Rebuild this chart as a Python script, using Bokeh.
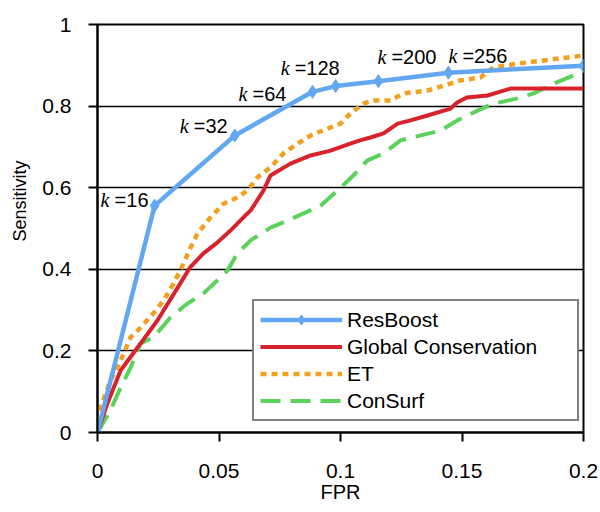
import math
from bokeh.plotting import figure
from bokeh.models import Legend, LegendItem, Label, FixedTicker, Title
from bokeh.embed import file_html
from bokeh.resources import INLINE

# ---------------- data ----------------
res_fpr = [0.0, 0.0235, 0.0565, 0.0885, 0.098, 0.1156, 0.1444, 0.2]
res_sens = [0.0, 0.556, 0.728, 0.835, 0.849, 0.861, 0.882, 0.899]
k_fpr = [0.0235, 0.0565, 0.0885, 0.098, 0.1156, 0.1444]
k_sens = [0.556, 0.728, 0.835, 0.849, 0.861, 0.882]
k_text = ["=16", "=32", "=64", "=128", "=200", "=256"]

gc_fpr = [0.0, 0.004, 0.0095, 0.0177, 0.0247, 0.033, 0.038, 0.0436, 0.0494, 0.0547,
          0.0617, 0.063, 0.0683, 0.0712, 0.0794, 0.0877, 0.0959, 0.104, 0.108, 0.1123,
          0.1177, 0.1235, 0.1288, 0.1358, 0.1453, 0.148, 0.152, 0.1605, 0.17, 0.2]
gc_sens = [0.0, 0.07, 0.152, 0.218, 0.275, 0.355, 0.404, 0.439, 0.466, 0.495,
           0.537, 0.544, 0.593, 0.630, 0.659, 0.679, 0.691, 0.708, 0.716, 0.723,
           0.733, 0.757, 0.765, 0.777, 0.794, 0.809, 0.821, 0.826, 0.843, 0.843]

et_fpr = [0.0, 0.0012, 0.0053, 0.0095, 0.0136, 0.0177, 0.023, 0.0272, 0.0313, 0.0354,
          0.0383, 0.0412, 0.0465, 0.0519, 0.0576, 0.060, 0.0617, 0.0658, 0.0712, 0.0765,
          0.0823, 0.0877, 0.0947, 0.100, 0.1041, 0.1095, 0.1136, 0.1206, 0.1259, 0.1358,
          0.1494, 0.1576, 0.163, 0.1728, 0.1905, 0.2]
et_sens = [0.0, 0.061, 0.127, 0.176, 0.233, 0.257, 0.292, 0.324, 0.365, 0.414,
           0.453, 0.488, 0.527, 0.561, 0.576, 0.586, 0.593, 0.625, 0.650, 0.684,
           0.708, 0.728, 0.745, 0.757, 0.782, 0.806, 0.814, 0.814, 0.831, 0.838,
           0.863, 0.870, 0.895, 0.904, 0.917, 0.924]

cs_fpr = [0.0, 0.0053, 0.0095, 0.0136, 0.0177, 0.023, 0.030, 0.037, 0.0436, 0.0494,
          0.0535, 0.0576, 0.0617, 0.063, 0.0712, 0.0765, 0.0848, 0.0918, 0.0988, 0.1053,
          0.1111, 0.1177, 0.1247, 0.1412, 0.1481, 0.1564, 0.163, 0.1728, 0.1794, 0.1877,
          0.1959, 0.2]
cs_sens = [0.0, 0.054, 0.110, 0.159, 0.218, 0.233, 0.282, 0.316, 0.341, 0.373,
           0.397, 0.439, 0.463, 0.471, 0.502, 0.515, 0.537, 0.556, 0.593, 0.630,
           0.667, 0.684, 0.716, 0.740, 0.765, 0.789, 0.806, 0.819, 0.831, 0.855,
           0.875, 0.887]

x_ticks = [0, 0.05, 0.1, 0.15, 0.2]
x_tick_labels = ["0", "0.05", "0.1", "0.15", "0.2"]
y_ticks = [0, 0.2, 0.4, 0.6, 0.8, 1.0]
y_tick_labels = ["0", "0.2", "0.4", "0.6", "0.8", "1"]

# ---------------- figure ----------------
SANS = "Liberation Sans"
p = figure(width=600, height=512, x_range=(0, 0.2), y_range=(0, 1),
           output_backend="svg", toolbar_location=None,
           min_border_left=97, min_border_right=17, min_border_top=24, min_border_bottom=80)
p.background_fill_color = "white"
p.border_fill_color = "white"
p.outline_line_color = "black"
p.outline_line_width = 2

p.xgrid.visible = False
p.ygrid.grid_line_color = "black"
p.ygrid.grid_line_width = 1.5
p.ygrid.ticker = FixedTicker(ticks=y_ticks)

for ax in (p.xaxis[0], p.yaxis[0]):
    ax.axis_line_color = "black"
    ax.axis_line_width = 2
    ax.major_tick_line_color = "black"
    ax.major_tick_line_width = 2
    ax.major_tick_in = 0
    ax.major_tick_out = 9
    ax.minor_tick_line_color = None
    ax.major_label_text_font = SANS
    ax.major_label_text_font_size = "21px"
    ax.major_label_text_color = "black"

p.xaxis.ticker = FixedTicker(ticks=x_ticks)
p.yaxis.ticker = FixedTicker(ticks=y_ticks)
p.xaxis.major_label_overrides = {t: l for t, l in zip(x_ticks, x_tick_labels)}
p.yaxis.major_label_overrides = {t: l for t, l in zip(y_ticks, y_tick_labels)}
p.xaxis.major_label_standoff = 22
p.yaxis.major_label_standoff = 17

p.xaxis.axis_label = "FPR"
p.xaxis.axis_label_text_font = SANS
p.xaxis.axis_label_text_font_style = "normal"
p.xaxis.axis_label_text_color = "black"
p.xaxis.axis_label_text_font_size = "20px"
p.xaxis.axis_label_standoff = 0

ytitle = Title(text="Sensitivity", align="left", offset=191, vertical_align="top",
               text_font=SANS, text_font_size="18px", text_font_style="normal",
               text_color="black", standoff=15)
p.add_layout(ytitle, "left")

BLUE = "#63a7f2"
RED = "#d8232d"
ORANGE = "#f4a01f"
GREEN = "#5bd35b"

r_cs = p.line(cs_fpr, cs_sens, line_color=GREEN, line_width=4, line_dash="20 10")
r_gc = p.line(gc_fpr, gc_sens, line_color=RED, line_width=4)
r_et = p.line(et_fpr, et_sens, line_color=ORANGE, line_width=4.5, line_dash="6 5")
r_res = p.line(res_fpr, res_sens, line_color=BLUE, line_width=4.5)
r_resm = p.scatter(res_fpr, res_sens, marker="diamond", size=13,
                   fill_color=BLUE, line_color=BLUE)

# k labels (offsets in screen pixels: dx right, dy down)
k_dx = [-54, -55, -74, -55, -1, 0]
k_dy = [-6, -9, 2, -18, -24, -17]
for i in range(len(k_fpr)):
    p.add_layout(Label(x=k_fpr[i], y=k_sens[i], text="k", x_offset=k_dx[i], y_offset=-k_dy[i],
                       text_font="Liberation Serif", text_font_style="italic",
                       text_font_size="20px", text_baseline="middle", text_align="left",
                       text_color="black"))
    p.add_layout(Label(x=k_fpr[i], y=k_sens[i], text=k_text[i], x_offset=k_dx[i] + 14,
                       y_offset=-k_dy[i], text_font=SANS, text_font_size="20px",
                       text_baseline="middle", text_align="left", text_color="black"))

legend = Legend(items=[
    LegendItem(label="ResBoost", renderers=[r_res, r_resm]),
    LegendItem(label="Global Conservation", renderers=[r_gc]),
    LegendItem(label="ET", renderers=[r_et]),
    LegendItem(label="ConSurf", renderers=[r_cs]),
], location=(155, 11))
legend.border_line_color = "black"
legend.border_line_width = 2
legend.background_fill_color = "white"
legend.background_fill_alpha = 1
legend.label_text_font = SANS
legend.label_text_font_size = "21px"
legend.label_text_color = "black"
legend.glyph_width = 82
legend.glyph_height = 25
legend.label_height = 25
legend.label_width = 224
legend.label_standoff = 5
legend.spacing = 2
legend.padding = 6
legend.margin = 0
p.add_layout(legend)

open("out.html", "w").write(file_html(p, INLINE))
